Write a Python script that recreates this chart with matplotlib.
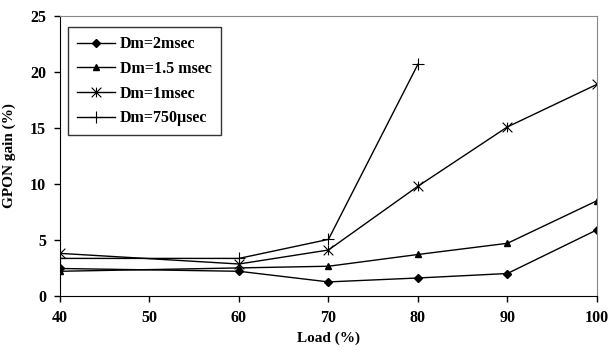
import numpy as np
import matplotlib.pyplot as plt
from matplotlib.path import Path

plt.rcParams['font.family'] = ['Liberation Serif', 'DejaVu Serif']
plt.rcParams['font.weight'] = 'bold'

load = [40, 60, 70, 80, 90, 100]
dm_2ms = [2.45, 2.2, 1.25, 1.6, 2.0, 5.9]
dm_15ms = [2.2, 2.5, 2.65, 3.7, 4.7, 8.5]
dm_1ms = [3.8, 2.85, 4.1, 9.8, 15.1, 18.9]
load_750 = [40, 60, 70, 80]
dm_750us = [3.35, 3.35, 5.05, 20.7]

# Excel style star: X with a vertical bar
star = Path([(-1, -1), (1, 1), (-1, 1), (1, -1), (0, -1), (0, 1)],
            [Path.MOVETO, Path.LINETO, Path.MOVETO, Path.LINETO, Path.MOVETO, Path.LINETO])

fig = plt.figure(figsize=(6.08, 3.51), dpi=100)
ax = fig.add_axes([0.0987, 0.157, 0.883, 0.797])

ax.plot(load, dm_2ms, color='black', lw=1, marker='D', ms=4, label='Dm=2msec')
ax.plot(load, dm_15ms, color='black', lw=1, marker='^', ms=5, label='Dm=1.5 msec')
ax.plot(load, dm_1ms, color='black', lw=1, marker=star, ms=7, mew=0.8, label='Dm=1msec')
ax.plot(load_750, dm_750us, color='black', lw=1, marker='+', ms=8, mew=0.8, label='Dm=750\u00b5sec')

ax.set_xlim(40, 100)
ax.set_ylim(0, 25)
ax.set_xticks(np.arange(40, 101, 10))
ax.set_yticks(np.arange(0, 26, 5))
ax.tick_params(direction='out', length=4, width=1, labelsize=11.5, pad=6)
for s in ['top', 'right']:
    ax.spines[s].set_color('#888888')
ax.set_xlabel('Load (%)', fontsize=11, fontweight='bold', labelpad=4)
ax.set_ylabel('GPON gain (%)', fontsize=11, fontweight='bold', labelpad=10)

leg = ax.legend(loc='upper left', bbox_to_anchor=(0.015, 0.96), borderaxespad=0,
                fontsize=11.5, frameon=True, fancybox=False, edgecolor='black',
                handlelength=2.4, handletextpad=0.3, borderpad=0.55, labelspacing=0.55)
leg.get_frame().set_linewidth(1)

plt.savefig('out.png', dpi=100)
